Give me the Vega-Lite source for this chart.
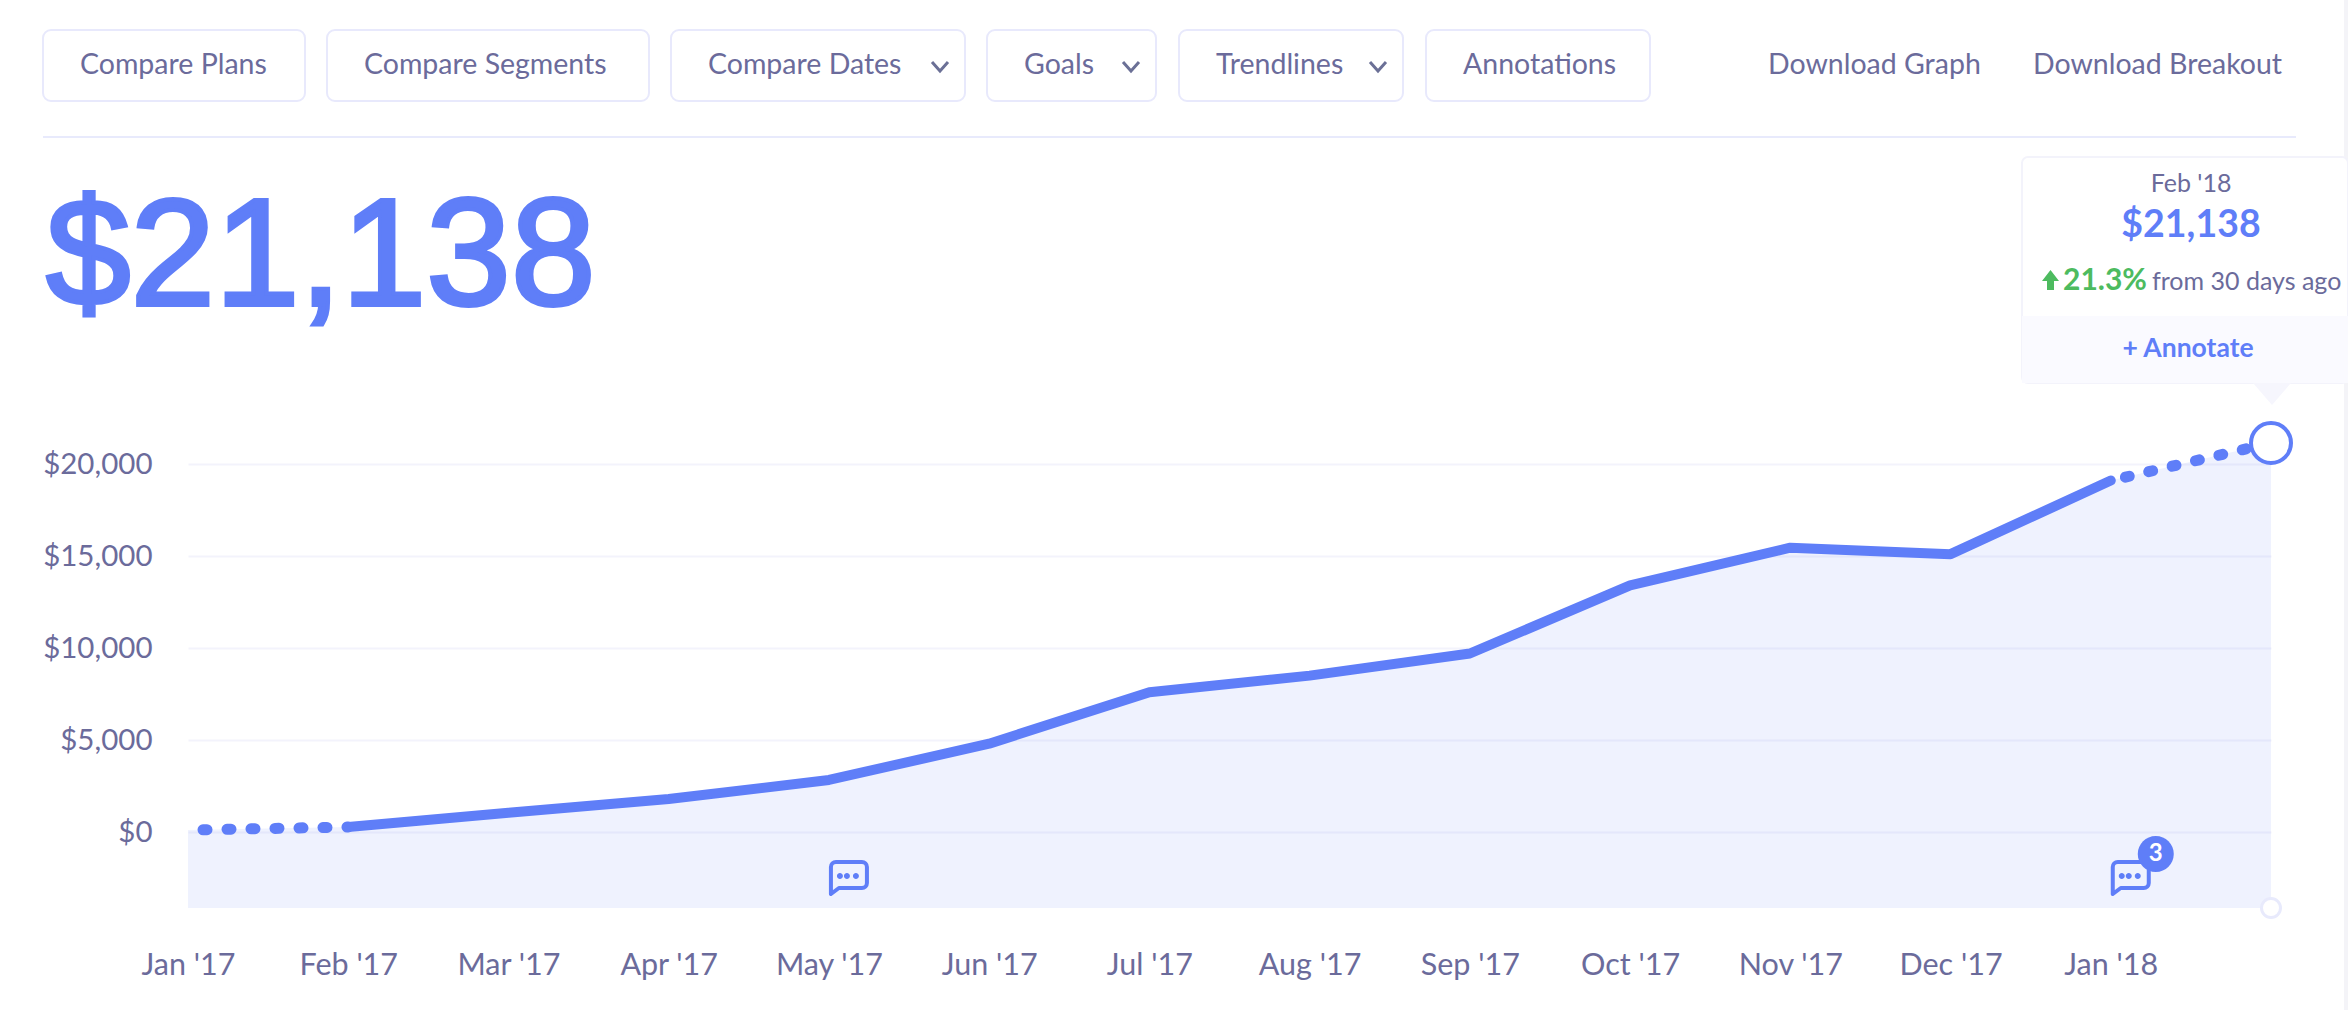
{
  "$schema": "https://vega.github.io/schema/vega-lite/v6.json",
  "width": 2348,
  "height": 1010,
  "padding": 0,
  "autosize": "none",
  "background": "#ffffff",
  "config": {
    "view": {"stroke": null},
    "text": {"font": "Lato", "color": "#6b6b9b"}
  },
  "datasets": {
    "revenue": [
      {"month": "Jan '17", "mrr": 110},
      {"month": "Feb '17", "mrr": 270},
      {"month": "Mar '17", "mrr": 1050},
      {"month": "Apr '17", "mrr": 1790},
      {"month": "May '17", "mrr": 2830},
      {"month": "Jun '17", "mrr": 4800},
      {"month": "Jul '17", "mrr": 7600},
      {"month": "Aug '17", "mrr": 8500},
      {"month": "Sep '17", "mrr": 9700},
      {"month": "Oct '17", "mrr": 13400},
      {"month": "Nov '17", "mrr": 15450},
      {"month": "Dec '17", "mrr": 15100},
      {"month": "Jan '18", "mrr": 19100},
      {"month": "Feb '18", "mrr": 21138}
    ],
    "partial": [
      {"month": "Jan '17", "mrr": 110, "stretch": "first"},
      {"month": "Feb '17", "mrr": 270, "stretch": "first"},
      {"month": "Jan '18", "mrr": 19100, "stretch": "last"},
      {"month": "Feb '18", "mrr": 21138, "stretch": "last"}
    ],
    "latest": [{"month": "Feb '18", "mrr": 21138}],
    "notes": [
      {"month": "May '17", "mrr": 2830, "count": 1},
      {"month": "Jan '18", "mrr": 19100, "count": 3}
    ],
    "buttons": [
      {"label": "Compare Plans", "col": 0, "colEnd": 1, "row": 1, "rowEnd": 3, "base": 2, "menu": false},
      {"label": "Compare Segments", "col": 2, "colEnd": 3, "row": 1, "rowEnd": 3, "base": 2, "menu": false},
      {"label": "Compare Dates", "col": 4, "colEnd": 5, "row": 1, "rowEnd": 3, "base": 2, "menu": true},
      {"label": "Goals", "col": 6, "colEnd": 7, "row": 1, "rowEnd": 3, "base": 2, "menu": true},
      {"label": "Trendlines", "col": 8, "colEnd": 9, "row": 1, "rowEnd": 3, "base": 2, "menu": true},
      {"label": "Annotations", "col": 10, "colEnd": 11, "row": 1, "rowEnd": 3, "base": 2, "menu": false}
    ]
  },
  "resolve": {"scale": {"x": "independent", "y": "independent"}},
  "layer": [
    {
      "encoding": {
        "x": {
          "field": "col",
          "type": "quantitative",
          "axis": null,
          "scale": {
            "zero": false,
            "nice": false,
            "domain": [0, 1, 2, 3, 4, 5, 6, 7, 8, 9, 10, 11, 12, 13, 14, 15, 16, 17, 18, 19, 20, 21],
            "range": [43, 305, 327, 649, 671, 965, 987, 1156, 1179, 1403, 1426, 1650, 1768, 2022, 2033, 2063, 2152, 2191, 2272, 2296, 2344, 2348]
          }
        },
        "y": {
          "field": "row",
          "type": "quantitative",
          "axis": null,
          "scale": {
            "zero": false,
            "nice": false,
            "domain": [0, 1, 2, 3, 4, 5, 6, 7, 8, 9, 10, 11, 12, 13],
            "range": [0, 30, 74, 101, 137, 157, 192, 237, 290, 305, 316, 357, 383, 1010]
          }
        }
      },
      "layer": [
        {
          "data": {"values": [{"col": 20, "colEnd": 21, "row": 0, "rowEnd": 13}]},
          "mark": {"type": "rect", "fill": "#f4f4f8"},
          "encoding": {"x2": {"field": "colEnd"}, "y2": {"field": "rowEnd"}}
        },
        {
          "data": {"name": "buttons"},
          "mark": {"type": "rect", "fill": "#ffffff", "stroke": "#e8e9fc", "strokeWidth": 2, "cornerRadius": 8},
          "encoding": {"x2": {"field": "colEnd"}, "y2": {"field": "rowEnd"}}
        },
        {
          "data": {"name": "buttons"},
          "mark": {"type": "text", "align": "left", "baseline": "alphabetic", "dx": 37, "fontSize": 28.5},
          "encoding": {"y": {"field": "base", "type": "quantitative"}, "text": {"field": "label"}}
        },
        {
          "data": {"name": "buttons"},
          "transform": [{"filter": "datum.menu"}],
          "mark": {"type": "point", "filled": false, "stroke": "#6b7096", "strokeWidth": 3, "size": 4, "opacity": 1, "shape": "M-33,-12 L-25,-3 L-17,-12"},
          "encoding": {"x": {"field": "colEnd", "type": "quantitative"}, "y": {"field": "base", "type": "quantitative"}}
        },
        {
          "data": {"values": [
            {"label": "Download Graph", "col": 12, "row": 2},
            {"label": "Download Breakout", "col": 14, "row": 2}
          ]},
          "mark": {"type": "text", "align": "left", "baseline": "alphabetic", "fontSize": 28.5},
          "encoding": {"text": {"field": "label"}}
        },
        {
          "data": {"values": [{"col": 0, "colEnd": 19, "row": 4}]},
          "mark": {"type": "rule", "stroke": "#e8eafc", "strokeWidth": 2},
          "encoding": {"x2": {"field": "colEnd"}}
        },
        {
          "data": {"values": [{"label": "$21,138", "col": 0, "row": 9}]},
          "mark": {"type": "text", "font": "Liberation Sans", "align": "left", "baseline": "alphabetic", "dx": 3, "fontSize": 152, "color": "#5f7ef8", "stroke": "#5f7ef8", "strokeWidth": 4},
          "encoding": {"text": {"field": "label"}}
        },
        {
          "data": {"values": [{"col": 13, "colEnd": 21, "row": 5, "rowEnd": 12}]},
          "mark": {"type": "rect", "fill": "#ffffff", "stroke": "#f3f3fb", "strokeWidth": 2, "cornerRadius": 6},
          "encoding": {"x2": {"field": "colEnd"}, "y2": {"field": "rowEnd"}}
        },
        {
          "data": {"values": [{"col": 13, "colEnd": 21, "row": 10, "rowEnd": 12}]},
          "mark": {"type": "rect", "fill": "#fafaff"},
          "encoding": {"x2": {"field": "colEnd"}, "y2": {"field": "rowEnd"}}
        },
        {
          "data": {"values": [{"col": 18, "row": 12}]},
          "mark": {"type": "point", "filled": true, "fill": "#f6f6fd", "size": 4, "opacity": 1, "shape": "M-19,0 L0,22 L19,0 Z"}
        },
        {
          "data": {"values": [{"label": "Feb '18", "col": 17, "row": 6}]},
          "mark": {"type": "text", "align": "center", "baseline": "alphabetic", "fontSize": 25},
          "encoding": {"text": {"field": "label"}}
        },
        {
          "data": {"values": [{"label": "$21,138", "col": 17, "row": 7}]},
          "mark": {"type": "text", "align": "center", "baseline": "alphabetic", "fontSize": 37.5, "fontWeight": "bold", "color": "#5f7ef8"},
          "encoding": {"text": {"field": "label"}}
        },
        {
          "data": {"values": [{"label": "21.3%", "col": 15, "row": 8}]},
          "mark": {"type": "text", "align": "left", "baseline": "alphabetic", "fontSize": 30, "fontWeight": "bold", "color": "#4dbb5f"},
          "encoding": {"text": {"field": "label"}}
        },
        {
          "data": {"values": [{"col": 15, "row": 8}]},
          "mark": {"type": "point", "filled": true, "fill": "#4dbb5f", "size": 4, "opacity": 1, "shape": "M-12.5,-20 L-4,-9 H-9 V0 H-16 V-9 H-21 Z"}
        },
        {
          "data": {"values": [{"label": "from 30 days ago", "col": 16, "row": 8}]},
          "mark": {"type": "text", "align": "left", "baseline": "alphabetic", "fontSize": 25},
          "encoding": {"text": {"field": "label"}}
        },
        {
          "data": {"values": [{"label": "+ Annotate", "col": 17, "row": 11}]},
          "mark": {"type": "text", "align": "center", "baseline": "alphabetic", "dx": -3, "fontSize": 26.5, "fontWeight": "bold", "color": "#5f7ef8"},
          "encoding": {"text": {"field": "label"}}
        }
      ]
    },
    {
      "encoding": {
        "x": {
          "field": "month",
          "type": "nominal",
          "sort": null,
          "title": null,
          "scale": {
            "type": "point",
            "padding": 0,
            "domain": ["Jan '17", "Feb '17", "Mar '17", "Apr '17", "May '17", "Jun '17", "Jul '17", "Aug '17", "Sep '17", "Oct '17", "Nov '17", "Dec '17", "Jan '18", "Feb '18"],
            "range": [188, 2271]
          },
          "axis": {
            "orient": "bottom",
            "offset": -60,
            "values": ["Jan '17", "Feb '17", "Mar '17", "Apr '17", "May '17", "Jun '17", "Jul '17", "Aug '17", "Sep '17", "Oct '17", "Nov '17", "Dec '17", "Jan '18"],
            "domain": false,
            "ticks": false,
            "grid": false,
            "labelAngle": 0,
            "labelPadding": 0,
            "labelBaseline": "top",
            "labelFont": "Lato",
            "labelFontSize": 30.5,
            "labelColor": "#6b6b9b"
          }
        },
        "y": {
          "field": "mrr",
          "type": "quantitative",
          "title": null,
          "scale": {"zero": false, "nice": false, "domain": [-4130, 20000], "range": [908, 464]},
          "axis": {
            "orient": "left",
            "offset": -170,
            "values": [0, 5000, 10000, 15000, 20000],
            "format": "$,d",
            "domain": false,
            "ticks": false,
            "grid": true,
            "gridColor": "#f3f3fc",
            "gridWidth": 2,
            "labelPadding": 18,
            "labelFont": "Lato",
            "labelFontSize": 29.5,
            "labelColor": "#6b6b9b"
          }
        }
      },
      "layer": [
        {
          "data": {"name": "revenue"},
          "mark": {"type": "area", "fill": "#5f7ef8", "opacity": 0.1},
          "encoding": {"y2": {"datum": -4130}}
        },
        {
          "data": {"name": "revenue"},
          "transform": [{"filter": "datum.month != \"Jan '17\" && datum.month != \"Feb '18\""}],
          "mark": {"type": "line", "stroke": "#5f7ef8", "strokeWidth": 10, "strokeCap": "round", "strokeJoin": "round"}
        },
        {
          "data": {"name": "partial"},
          "mark": {"type": "line", "stroke": "#5f7ef8", "strokeWidth": 11, "strokeCap": "round", "strokeDash": [4, 20], "strokeDashOffset": -15},
          "encoding": {"detail": {"field": "stretch"}}
        },
        {
          "data": {"name": "latest"},
          "mark": {"type": "point", "shape": "circle", "filled": true, "fill": "#ffffff", "stroke": "#5f7ef8", "strokeWidth": 4, "size": 1600, "opacity": 1}
        },
        {
          "data": {"name": "latest"},
          "mark": {"type": "point", "shape": "circle", "filled": true, "fill": "#ffffff", "stroke": "#e8eafc", "strokeWidth": 3, "size": 361, "opacity": 1},
          "encoding": {"y": {"datum": -4130}}
        },
        {
          "data": {"name": "notes"},
          "mark": {"type": "point", "filled": false, "stroke": "#5f7ef8", "strokeWidth": 4, "strokeJoin": "round", "size": 4, "opacity": 1, "shape": "M2,-11 a5,5 0 0 1 5,-5 H33 a5,5 0 0 1 5,5 V5 a5,5 0 0 1 -5,5 H10 L2,16 Z"},
          "encoding": {"y": {"datum": -2500}}
        },
        {
          "data": {"name": "notes"},
          "mark": {"type": "point", "filled": true, "fill": "#5f7ef8", "size": 4, "opacity": 1, "shape": "M8,-2 a3,3 0 1 0 6,0 a3,3 0 1 0 -6,0 Z M15,-2 a3,3 0 1 0 6,0 a3,3 0 1 0 -6,0 Z M24,-2 a3,3 0 1 0 6,0 a3,3 0 1 0 -6,0 Z"},
          "encoding": {"y": {"datum": -2500}}
        },
        {
          "data": {"name": "notes"},
          "transform": [{"filter": "datum.count > 1"}],
          "mark": {"type": "point", "filled": true, "fill": "#5f7ef8", "size": 4, "opacity": 1, "shape": "M27,-24 a18,18 0 1 0 36,0 a18,18 0 1 0 -36,0 Z"},
          "encoding": {"y": {"datum": -2500}}
        },
        {
          "data": {"name": "notes"},
          "transform": [{"filter": "datum.count > 1"}],
          "mark": {"type": "text", "align": "center", "baseline": "middle", "dx": 45, "dy": -24, "fontSize": 24, "fontWeight": "bold", "color": "#ffffff"},
          "encoding": {"y": {"datum": -2500}, "text": {"field": "count", "type": "quantitative"}}
        }
      ]
    }
  ]
}
